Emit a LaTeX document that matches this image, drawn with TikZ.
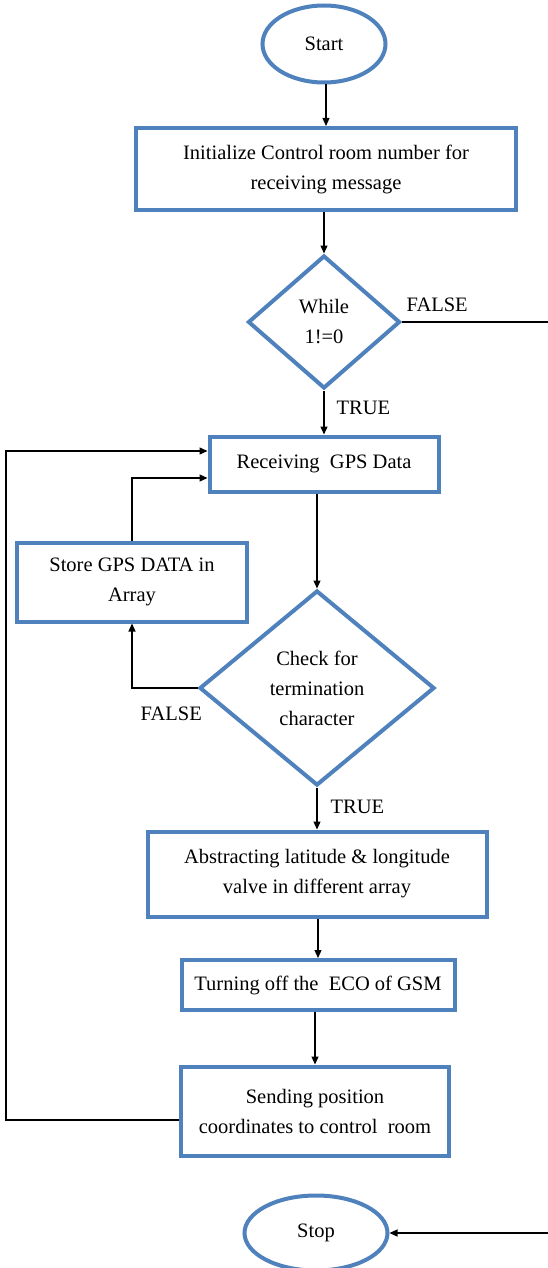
\documentclass[tikz,border=0pt]{standalone}
\usepackage{fontspec}
\setmainfont{Liberation Serif}
\usetikzlibrary{arrows.meta,
                shapes.geometric}

\definecolor{boxblue}{RGB}{79,129,189}

\begin{document}
\begin{tikzpicture}[
    x = 1pt, y = -1pt,
 font = \fontsize{20.5}{30}\selectfont,
  blk/.style = {rectangle, draw=boxblue, line width=4pt,
                align=center, inner sep=0pt},
  dec/.style = {diamond, draw=boxblue, line width=4pt,
                align=center, inner sep=0pt},
 term/.style = {ellipse, draw=boxblue, line width=4pt, inner sep=0pt},
  arr/.style = {line width=1.2pt, -{Triangle[length=8pt, width=7pt]}},
  lbl/.style = {inner sep=0pt}
                        ]
\useasboundingbox (0,0) rectangle (547,1268);

\node[term, minimum width=123pt, minimum height=77pt] (start) at (324,44) {Start};
\node[blk, minimum width=380pt, minimum height=82pt] (init) at (326,169)
    {Initialize Control room number for\\ receiving message};
\node[dec, minimum width=152pt, minimum height=133pt] (while) at (324,322)
    {While\\ 1!=0};
\node[blk, minimum width=229pt, minimum height=55pt] (recv) at (324,464)
    {Receiving~ GPS Data};
\node[blk, minimum width=230pt, minimum height=79pt] (store) at (132,582)
    {Store GPS DATA in\\ Array};
\node[dec, minimum width=235pt, minimum height=195pt] (check) at (317,688)
    {Check for\\ termination\\ character};
\node[blk, minimum width=339pt, minimum height=85pt] (abs) at (317,874)
    {Abstracting latitude \& longitude\\ valve in different array};
\node[blk, minimum width=273pt, minimum height=50pt] (turn) at (318,985)
    {Turning off the~ ECO of GSM};
\node[blk, minimum width=268pt, minimum height=89pt] (send) at (315,1111)
    {Sending position\\ coordinates to control~ room};
\node[term, minimum width=143pt, minimum height=75pt] (stop) at (316,1233) {Stop};

% main line
\foreach \a/\b in {start/init, init/while, recv/check, abs/turn, turn/send}
    \draw[arr] (\b.north |- \a.south) -- (\b.north);
\draw[arr] (while.south) -- node[lbl, right=12pt, pos=0.4] (t1) {TRUE} (recv.north);
\draw[arr] (check.south) -- node[lbl, right=13pt, pos=0.45] (t2) {TRUE} (abs.north);

% loops
\draw[arr] (check.west) -| node[lbl, below=18pt, pos=0.2] (f2) {FALSE} (store.south);
\draw[arr] (store.north) |- ([yshift=-14pt]recv.west);
\draw[arr] ([yshift=-9pt]send.west) -- ++(-173,0) |- ([yshift=13pt]recv.west);
\draw[arr] (while.east) -- node[lbl, above=10pt, pos=0.22] (f1) {FALSE} ++(160,0)
    |- (stop.east);
\end{tikzpicture}
\end{document}
